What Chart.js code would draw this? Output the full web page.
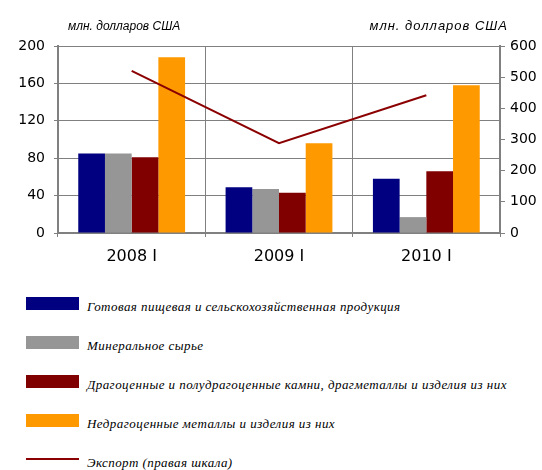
<!DOCTYPE html>
<html>
<head>
<meta charset="utf-8">
<script src="https://cdn.jsdelivr.net/npm/chart.js@4.4.1/dist/chart.umd.min.js"></script>
<style>
  body { margin: 0; background: #fff; }
  #page { position: relative; width: 542px; height: 470px; overflow: hidden; }
  #myChart { position: absolute; left: 0; top: 0; }
  #legend { position: absolute; left: 26px; top: 297px; font-family: "Liberation Serif", serif; font-style: italic; font-size: 13px; letter-spacing: 0.45px; color: #000; }
  .item { position: relative; height: 39px; }
  .box { position: absolute; left: 0; top: 0; width: 53px; height: 13px; }
  .line { position: absolute; left: 0; top: 5px; width: 53px; height: 2px; }
  .txt { position: absolute; left: 61px; top: 3px; white-space: nowrap; line-height: 14px; }
</style>
</head>
<body>
<div id="page">
  <canvas id="myChart" width="542" height="270"></canvas>
  <div id="legend"></div>
</div>
<script>
const categories = ['2008 I', '2009 I', '2010 I']
// млн. долларов США, левая шкала
const foodProducts = [85, 49, 58]
const mineralRaw = [85, 47, 17]
const preciousStones = [81, 43, 66]
const baseMetals = [188, 96, 158]
// экспорт всего, правая шкала
const exportTotal = [520, 288, 442]

const leftTicks = { min: 0, max: 200, step: 40 }
const rightTicks = { min: 0, max: 600, step: 100 }

const axisColor = '#808080'
const unitsTitle = 'млн. долларов США'

// подписи единиц над обеими осями
const unitsPlugin = {
    id: 'units',
    afterDraw(chart) {
        const ctx = chart.ctx
        const area = chart.chartArea
        ctx.save()
        ctx.fillStyle = '#000'
        ctx.textBaseline = 'alphabetic'
        ctx.font = 'italic 12px "Liberation Sans"'
        ctx.textAlign = 'left'
        ctx.fillText(unitsTitle, area.left + 10, 30)
        // правая подпись чуть крупнее и разреженнее
        ctx.font = 'italic 13px "Liberation Sans"'
        ctx.letterSpacing = '1px'
        ctx.textAlign = 'right'
        ctx.fillText(unitsTitle, area.right + 8, 30)
        ctx.restore()
    }
}

function createChart() {
    const ctx = document.getElementById('myChart')
    const tickFont = { family: 'DejaVu Sans', size: 14 }
    return new Chart(ctx, {
        type: 'bar',
        data: {
            labels: categories,
            datasets: [
                { label: 'Готовая пищевая и сельскохозяйственная продукция', data: foodProducts, backgroundColor: '#000080', yAxisID: 'y', order: 1 },
                { label: 'Минеральное сырье', data: mineralRaw, backgroundColor: '#969696', yAxisID: 'y', order: 1 },
                { label: 'Драгоценные и полудрагоценные камни, драгметаллы и изделия из них', data: preciousStones, backgroundColor: '#800000', yAxisID: 'y', order: 1 },
                { label: 'Недрагоценные металлы и изделия из них', data: baseMetals, backgroundColor: '#FF9900', yAxisID: 'y', order: 1 },
                { type: 'line', label: 'Экспорт (правая шкала)', data: exportTotal, borderColor: '#8B0000', borderWidth: 2, pointRadius: 0, tension: 0, fill: false, yAxisID: 'y2', order: 0 }
            ]
        },
        options: {
            responsive: false,
            animation: false,
            layout: { padding: { top: 46, left: 0, right: 0, bottom: 0 } },
            datasets: { bar: { categoryPercentage: 0.725, barPercentage: 1 } },
            plugins: { legend: { display: false }, tooltip: { enabled: false } },
            scales: {
                x: {
                    offset: true,
                    grid: { offset: true, color: axisColor, lineWidth: 1, tickLength: 4 },
                    border: { color: axisColor, width: 2 },
                    ticks: { font: { family: 'DejaVu Sans', size: 16 }, color: '#000', padding: 10 },
                    afterFit: s => { s.height = 37 }
                },
                y: {
                    position: 'left',
                    min: leftTicks.min, max: leftTicks.max,
                    grid: { color: axisColor, lineWidth: 1, tickLength: 4 },
                    border: { color: axisColor, width: 2 },
                    ticks: { stepSize: leftTicks.step, font: tickFont, color: '#000', padding: 9 },
                    afterFit: s => { s.width = 58 }
                },
                y2: {
                    position: 'right',
                    min: rightTicks.min, max: rightTicks.max,
                    grid: { drawOnChartArea: false, color: axisColor, tickLength: 5 },
                    border: { color: axisColor, width: 2 },
                    ticks: { stepSize: rightTicks.step, font: tickFont, color: '#000', padding: 5 },
                    afterFit: s => { s.width = 42 }
                }
            }
        },
        plugins: [unitsPlugin]
    })
}

function createLegend(chart) {
    const legend = document.getElementById('legend')
    chart.data.datasets.forEach(ds => {
        const item = document.createElement('div')
        item.className = 'item'
        const mark = document.createElement('div')
        if (ds.type === 'line') {
            mark.className = 'line'
            mark.style.background = ds.borderColor
        } else {
            mark.className = 'box'
            mark.style.background = ds.backgroundColor
        }
        const txt = document.createElement('span')
        txt.className = 'txt'
        txt.textContent = ds.label
        item.appendChild(mark)
        item.appendChild(txt)
        legend.appendChild(item)
    })
}

const myChart = createChart()
createLegend(myChart)
</script>
</body>
</html>
